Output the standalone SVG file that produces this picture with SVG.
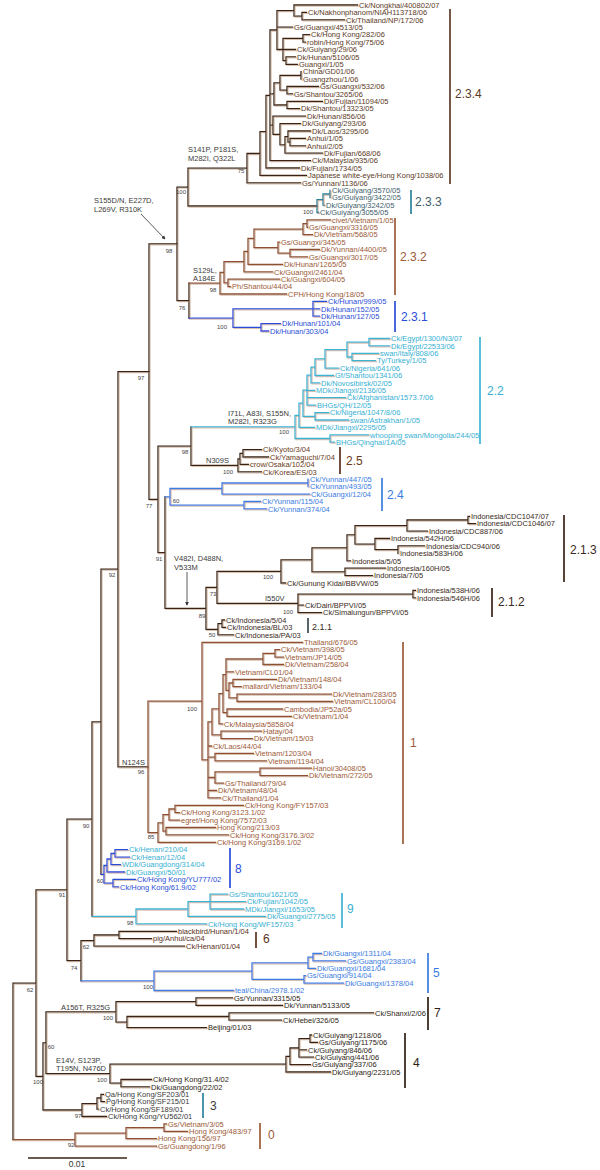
<svg xmlns="http://www.w3.org/2000/svg" width="600" height="1170" viewBox="0 0 600 1170">
<style>
text{font-family:"Liberation Sans",Arial,sans-serif}
.t{font-size:7.5px}
.bs{font-size:6px;fill:#444;text-anchor:middle}
.mu{font-size:7.5px;fill:#3a3a3a}
.cl{font-size:12px}
.sm{font-size:9px}
#connectors path{fill:none;stroke-width:1.3;stroke-linecap:square}
.bar{stroke-width:1.7;fill:none}
.k{stroke:#3a2214}
.s{stroke:#8f4f30}
.b{stroke:#2a4ed8}
.b2{stroke:#3a7be2}
.c{stroke:#3bb3d3}
.tl{stroke:#2b8399}
.f234{fill:#5c3a26}.f233{fill:#3e5e6b}.fs{fill:#9c5a38}.fb{fill:#2a4ed8}.fb2{fill:#3a7be2}.fc{fill:#36b0d2}.f25{fill:#6a3a20}.f21{fill:#3a2a22}.f6{fill:#5a3020}.fk{fill:#2e1e14}.f3{fill:#3a3a3a}
</style>
<defs>
<marker id="ah" viewBox="0 0 6 6" refX="5" refY="3" markerWidth="5" markerHeight="5" orient="auto"><path d="M0,0L6,3L0,6z" fill="#333"/></marker>
<filter id="sh" x="-2%" y="-2%" width="104%" height="104%">
<feOffset in="SourceAlpha" dx="0.9" dy="0.9" result="o"/>
<feFlood flood-color="#d6c0ae"/>
<feComposite in2="o" operator="in" result="s"/>
<feMerge><feMergeNode in="s"/><feMergeNode in="SourceGraphic"/></feMerge>
</filter>
</defs>
<rect width="600" height="1170" fill="#fff"/>
<g id="connectors" filter="url(#sh)">
<path class="k" d="M302 12.4V19.8M302 12.4H306.5M302 19.8H344.5M294 5V16.1M294 5H357.5M294 16.1H302M303 34.6V42.1M303 34.6H309.5M303 42.1H305.5M286 56.9V64.3M286 56.9H295.5M286 64.3H297.5M283 38.4V60.6M283 38.4H303M283 49.5H295.5M283 60.6H286M277 10.6V49.5M277 10.6H294M277 27.2H292.5M277 49.5H283M301 71.7V79.1M287 86.5V93.9M287 86.5H318.5M287 93.9H292.5M280 75.4V90.2M280 75.4H301M280 90.2H287M287 101.3V108.7M287 101.3H322.5M287 108.7H299.5M274 82.8V105M274 82.8H280M274 105H287M290 138.4V145.8M290 138.4H305.5M290 145.8H305.5M288 131V142.1M288 131H310.5M288 142.1H290M285 136.6V153.2M285 136.6H288M285 153.2H322.5M280 123.6V144.9M280 123.6H300.5M280 144.9H285M273 116.2V134.3M273 116.2H305.5M273 134.3H280M270 30V160.6M270 30H277M270 93.9H274M270 125.2H273M270 160.6H310.5M266 95.3V168M266 95.3H270M266 168H299.5M260 131.7V175.4M260 131.7H266M260 175.4H306.5M247 153.5V182.8M247 153.5H260M247 182.8H300.5M188 168.2V206M188 168.2H247M188 206H317M177 187.1V300.6M177 187.1H188M177 300.6H189M189 283.1V318.1"/>
<path class="k" d="M149 243.9V499.4M149 243.9H177M149 499.4H158M158 446.1V552.6M158 446.1H191M158 552.6H165M191 426.9V465.3M191 465.3H238M243 449.6V457M243 449.6H261.5M243 457H268.5M240 453.3V464.4M240 453.3H243M240 464.4H248.5M238 458.9V471.8M238 458.9H240M238 471.8H261.5M165 496.9V608.4M165 608.4H206M468 516.3V523.7M468 516.3H469.5M468 523.7H475.5M407 520V531.1M407 520H468M407 531.1H427.5M398 545.9V553.3M398 545.9H424.5M375 538.5V549.6M375 538.5H389.5M375 549.6H398M355 525.6V544.1M355 525.6H407M355 544.1H375M347 534.8V560.8M347 534.8H355M347 560.8H350.5M345 568.2V575.6M345 568.2H385.5M345 575.6H372.5M312 547.8V571.9M312 547.8H347M312 571.9H345M281 559.9V583M281 559.9H312M281 583H285.5M413 590.4V597.8M413 590.4H415.5M413 597.8H415.5M298 594.1V612.6M298 594.1H413M298 605.2H303.5M298 612.6H321.5M217 571.4V603.4M217 571.4H281M217 603.4H298M222 620V627.4M222 620H224.5M222 627.4H225.5M218 623.7V634.9M218 623.7H222M218 634.9H233.5M206 587.4V629.3M206 587.4H217M206 629.3H218"/>
<path class="k" d="M118 371.6V766.9M118 371.6H149M118 766.9H148M101 569.2V874.3M101 569.2H118M92 721.8V916.4M92 721.8H101M67 819.1V960.7M67 819.1H92M67 960.7H81M119 931.3V938.7M119 931.3H176.5M119 938.7H151.5M94 935V946.1M94 935H119M94 946.1H184.5M81 940.6V980.8M81 940.6H94M36 889.9V1076.4M36 889.9H67M36 1076.4H43M196 997.9V1005.4M196 997.9H232.5M196 1005.4H282.5M229 1012.8V1020.2M229 1012.8H373.5M229 1020.2H281.5M127 1016.5V1027.6M127 1016.5H229M127 1027.6H206.5M116 1001.7V1022.1M116 1001.7H196M116 1022.1H127M310 1035V1042.4M310 1035H311.5M310 1042.4H317.5M299 1038.7V1057.2M299 1038.7H310M299 1049.8H306.5M299 1057.2H313.5M290 1048V1064.6M290 1048H299M290 1064.6H310.5M286 1056.3V1072M286 1056.3H290M286 1072H330.5M121 1079.5V1086.9M121 1079.5H151.5M121 1086.9H149.5M110 1064.2V1083.2M110 1064.2H286M110 1083.2H121M46 1011.9V1073.7M46 1011.9H116M46 1073.7H110M101 1094.3V1101.7M101 1094.3H103.5M101 1101.7H104.5M97 1098V1109.1M97 1098H101M97 1109.1H98.5M82 1103.6V1116.5M82 1103.6H97M82 1116.5H106.5M43 1042.8V1110M43 1042.8H46M43 1110H82M13 983.2V1139.6M13 983.2H36"/>
<path class="tl" d="M330 190.3V197.7M323 194V205.1M323 194H330M323 205.1H324.5M317 199.6V212.5M317 199.6H323M317 212.5H318.5"/>
<path class="s" d="M307 219.9V227.3M307 219.9H330.5M307 227.3H307.5M303 223.6V234.7M303 223.6H307M303 234.7H312.5M290 249.5V256.9M290 249.5H319.5M290 256.9H307.5M278 242.1V253.2M278 242.1H279.5M278 253.2H290M254 229.2V247.7M254 229.2H303M254 247.7H278M248 238.4V264.4M248 238.4H254M248 264.4H282.5M244 251.4V271.8M244 251.4H248M244 271.8H272.5M228 279.2V286.6M228 279.2H279.5M228 286.6H230.5M224 261.6V282.9M224 261.6H244M224 282.9H228M220 272.3V294M220 272.3H224M220 294H286.5M189 283.1H220"/>
<path class="s" d="M275 649.7V657.1M275 649.7H279.5M275 657.1H283.5M263 653.4V664.5M263 653.4H275M263 664.5H283.5M233 679.3V686.7M233 679.3H276.5M233 686.7H241.5M237 694.1V701.5M237 694.1H331.5M237 701.5H332.5M229 683V697.8M229 683H233M229 697.8H237M226 659V690.4M226 659H263M226 671.9H233.5M226 690.4H229M227 709V716.4M227 709H282.5M227 716.4H291.5M223 674.7V712.7M223 674.7H226M223 712.7H227M219 693.7V723.8M219 693.7H223M219 723.8H222.5M221 731.2V738.6M221 731.2H261.5M221 738.6H252.5M212 708.8V734.9M212 708.8H219M212 734.9H221M215 753.4V760.8M215 753.4H253.5M215 760.8H266.5M260 768.2V775.6M260 768.2H311.5M260 775.6H307.5M215 771.9V783.1M215 771.9H260M215 783.1H223.5M208 721.8V797.9M208 721.8H212M208 746H211.5M208 757.1H215M208 777.5H215M208 790.5H216.5M208 797.9H220.5M202 642.3V759.9M202 642.3H302.5M202 759.9H208M175 805.3V812.7M175 805.3H243.5M175 812.7H179.5M169 809V820.1M169 809H175M169 820.1H179.5M166 827.5V834.9M166 827.5H215.5M166 834.9H228.5M163 814.6V831.2M163 814.6H169M163 831.2H166M158 822.9V842.3M158 822.9H163M158 842.3H215.5M148 701.1V832.6M148 701.1H202M148 832.6H158"/>
<path class="s" d="M164 1123.9V1131.3M164 1123.9H166.5M164 1131.3H187.5M126 1127.6V1138.7M126 1127.6H164M126 1138.7H156.5M75 1133.2V1146.1M75 1133.2H126M75 1146.1H156.5M13 1139.6H75"/>
<path class="b" d="M189 318.1H233M313 301.4V316.2M313 301.4H326.5M313 308.8H319.5M313 316.2H319.5M261 323.6V331M261 323.6H280.5M261 331H268.5M233 308.8V327.3M233 308.8H313M233 327.3H261M115 849.7V857.2M115 849.7H127.5M115 857.2H129.5M111 853.5V864.6M111 853.5H115M111 864.6H120.5M107 859V872M107 859H111M107 872H124.5M113 879.4V886.8M113 879.4H135.5M113 886.8H118.5M104 865.5V883.1M104 865.5H107M104 883.1H113M101 874.3H104"/>
<path class="b2" d="M308 479.2V486.7M222 483V494.1M222 483H308M222 494.1H309.5M244 501.5V508.9M244 501.5H260.5M244 508.9H266.5M170 488.5V505.2M170 488.5H222M170 505.2H244M165 496.9H170M313 953.5V960.9M313 953.5H321.5M313 960.9H345.5M308 957.2V968.3M308 957.2H313M308 968.3H315.5M304 975.7V983.1M304 975.7H305.5M304 983.1H343.5M252 962.8V979.4M252 962.8H308M252 979.4H304M154 971.1V990.5M154 971.1H252M154 990.5H233.5M81 980.8H154"/>
<path class="c" d="M369 338.5V345.9M369 338.5H389.5M369 345.9H389.5M352 353.3V360.7M352 353.3H378.5M352 360.7H375.5M347 342.2V357M347 342.2H369M347 357H352M325 349.6V368.1M325 349.6H347M325 368.1H338.5M315 358.9V375.5M315 358.9H325M315 375.5H333.5M311 367.2V382.9M311 367.2H315M311 382.9H319.5M307 375.1V405.1M307 375.1H311M307 390.3H314.5M307 397.7H345.5M307 405.1H315.5M315 412.6V420M315 412.6H328.5M315 420H348.5M303 390.1V416.3M303 390.1H307M303 416.3H315M299 403.2V427.4M299 403.2H303M299 427.4H314.5M330 434.8V442.2M330 434.8H368.5M330 442.2H334.5M295 415.3V438.5M295 415.3H299M295 438.5H330M191 426.9H295M210 894.2V909M210 894.2H227.5M210 901.6H245.5M210 909H243.5M188 901.6V916.4M188 901.6H210M188 916.4H265.5M136 909V923.8M136 909H188M136 923.8H206.5M92 916.4H136"/>
</g>
<g id="annotations">
<text class="mu" x="94" y="202.7">S155D/N,  E227D,</text>
<text class="mu" x="94" y="211.7">L269V, R310K</text>
<path d="M141 214L165 239" stroke="#333" stroke-width="0.8" fill="none" marker-end="url(#ah)"/>
<text class="mu" x="188" y="151.7">S141P,   P181S,</text>
<text class="mu" x="188" y="160.7">M282I, Q322L</text>
<text class="mu" x="193" y="273.2">S129L,</text>
<text class="mu" x="193" y="281.2">A184E</text>
<text class="mu" x="228" y="415.7">I71L, A83I, S155N,</text>
<text class="mu" x="228" y="424.2">M282I, R323G</text>
<text class="mu" x="206" y="463.2">N309S</text>
<text class="mu" x="174" y="560.7">V482I, D488N,</text>
<text class="mu" x="174" y="569.7">V533M</text>
<path d="M187 572V605" stroke="#333" stroke-width="0.8" fill="none" marker-end="url(#ah)"/>
<text class="mu" x="265" y="600.7">I550V</text>
<text class="mu" x="122" y="764.7">N124S</text>
<text class="mu" x="61" y="1009.7">A156T, R325G</text>
<text class="mu" x="56" y="1062.7">E14V,   S123P,</text>
<text class="mu" x="56" y="1071.2">T195N, N476D</text>
</g>
<g id="bootstrap">
<text class="bs" x="241" y="173.1">75</text>
<text class="bs" x="181" y="194.1">100</text>
<text class="bs" x="308" y="214.1">100</text>
<text class="bs" x="169" y="253.1">98</text>
<text class="bs" x="213" y="292.1">98</text>
<text class="bs" x="182" y="310.1">76</text>
<text class="bs" x="222" y="329.1">100</text>
<text class="bs" x="141" y="380.1">97</text>
<text class="bs" x="284" y="434.1">100</text>
<text class="bs" x="185" y="454.1">98</text>
<text class="bs" x="228" y="474.1">100</text>
<text class="bs" x="176" y="503.1">60</text>
<text class="bs" x="149" y="508.1">77</text>
<text class="bs" x="159" y="561.1">91</text>
<text class="bs" x="112" y="577.1">92</text>
<text class="bs" x="268" y="579.1">100</text>
<text class="bs" x="213" y="596.1">73</text>
<text class="bs" x="288" y="614.1">100</text>
<text class="bs" x="202" y="618.1">89</text>
<text class="bs" x="212" y="637.1">50</text>
<text class="bs" x="192" y="711.1">100</text>
<text class="bs" x="141" y="774.1">96</text>
<text class="bs" x="151" y="839.1">85</text>
<text class="bs" x="86" y="828.1">90</text>
<text class="bs" x="100" y="883.1">60</text>
<text class="bs" x="62" y="897.1">91</text>
<text class="bs" x="130" y="925.1">98</text>
<text class="bs" x="86" y="949.1">62</text>
<text class="bs" x="74" y="970.1">74</text>
<text class="bs" x="148" y="989.1">100</text>
<text class="bs" x="30" y="992.1">62</text>
<text class="bs" x="108" y="1020.1">100</text>
<text class="bs" x="51" y="1049.1">60</text>
<text class="bs" x="102" y="1082.1">100</text>
<text class="bs" x="38" y="1084.1">100</text>
<text class="bs" x="78" y="1118.1">97</text>
<text class="bs" x="71" y="1147.1">92</text>
</g>
<g id="clade-2-3-4" class="t f234">
<text x="359" y="7.7">Ck/Nongkhai/400802/07</text>
<text x="308" y="15.1">Ck/Nakhonphanom/NIAH113718/06</text>
<text x="346" y="22.5">Ck/Thailand/NP/172/06</text>
<text x="294" y="29.9">Gs/Guangxi/4513/05</text>
<text x="311" y="37.3">Ck/Hong Kong/282/06</text>
<text x="307" y="44.8">robin/Hong Kong/75/06</text>
<text x="297" y="52.2">Ck/Guiyang/29/06</text>
<text x="297" y="59.6">Dk/Hunan/5106/05</text>
<text x="299" y="67">Guangxi/1/05</text>
<text x="303" y="74.4">China/GD01/06</text>
<text x="303" y="81.8">Guangzhou/1/06</text>
<text x="320" y="89.2">Gs/Guangxi/532/06</text>
<text x="294" y="96.6">Gs/Shantou/3265/06</text>
<text x="324" y="104">Dk/Fujian/11094/05</text>
<text x="301" y="111.4">Dk/Shantou/13323/05</text>
<text x="307" y="118.9">Dk/Hunan/856/06</text>
<text x="302" y="126.3">Dk/Guiyang/293/06</text>
<text x="312" y="133.7">Dk/Laos/3295/06</text>
<text x="307" y="141.1">Anhui/1/05</text>
<text x="307" y="148.5">Anhui/2/05</text>
<text x="324" y="155.9">Dk/Fujian/668/06</text>
<text x="312" y="163.3">Ck/Malaysia/935/06</text>
<text x="301" y="170.7">Dk/Fujian/1734/05</text>
<text x="308" y="178.1">Japanese white-eye/Hong Kong/1038/06</text>
<text x="302" y="185.5">Gs/Yunnan/1136/06</text>
<path class="bar" d="M450 9V184" stroke="#5c3a26"/>
<text class="cl" x="455" y="98.3">2.3.4</text>
</g>
<g id="clade-2-3-3" class="t f233">
<text x="332" y="193">Ck/Guiyang/3570/05</text>
<text x="332" y="200.4">Gs/Guiyang/3422/05</text>
<text x="326" y="207.8">Dk/Guiyang/3242/05</text>
<text x="320" y="215.2">Ck/Guiyang/3055/05</text>
<path class="bar" d="M411 190V214" stroke="#2b8399"/>
<text class="cl" x="415" y="206.3">2.3.3</text>
</g>
<g id="clade-2-3-2" class="t fs">
<text x="332" y="222.6">civet/Vietnam/1/05</text>
<text x="309" y="230">Gs/Guangxi/3316/05</text>
<text x="314" y="237.4">Dk/Vietnam/568/05</text>
<text x="281" y="244.8">Gs/Guangxi/345/05</text>
<text x="321" y="252.2">Dk/Yunnan/4400/05</text>
<text x="309" y="259.6">Gs/Guangxi/3017/05</text>
<text x="284" y="267.1">Dk/Hunan/1265/05</text>
<text x="274" y="274.5">Ck/Guangxi/2461/04</text>
<text x="281" y="281.9">Ck/Guangxi/604/05</text>
<text x="232" y="289.3">Ph/Shantou/44/04</text>
<text x="288" y="296.7">CPH/Hong Kong/18/05</text>
<path class="bar" d="M395 218V295" stroke="#9c5a38"/>
<text class="cl" x="400" y="261.3">2.3.2</text>
</g>
<g id="clade-2-3-1" class="t fb">
<text x="328" y="304.1">Ck/Hunan/999/05</text>
<text x="321" y="311.5">Dk/Hunan/152/05</text>
<text x="321" y="318.9">Dk/Hunan/127/05</text>
<text x="282" y="326.3">Dk/Hunan/101/04</text>
<text x="270" y="333.7">Dk/Hunan/303/04</text>
<path class="bar" d="M395 301V332" stroke="#2a4ed8"/>
<text class="cl" x="401" y="321.3">2.3.1</text>
</g>
<g id="clade-2-2" class="t fc">
<text x="391" y="341.2">Ck/Egypt/1300/N3/07</text>
<text x="391" y="348.6">Dk/Egypt/22533/06</text>
<text x="380" y="356">swan/Italy/808/06</text>
<text x="377" y="363.4">Ty/Turkey/1/05</text>
<text x="340" y="370.8">Ck/Nigeria/641/06</text>
<text x="335" y="378.2">Gf/Shantou/1341/06</text>
<text x="321" y="385.6">Dk/Novosibirsk/02/05</text>
<text x="316" y="393">MDk/Jiangxi/2136/05</text>
<text x="347" y="400.4">Ck/Afghanistan/1573.7/06</text>
<text x="317" y="407.8">BHGs/QH/12/05</text>
<text x="330" y="415.3">Ck/Nigeria/1047/8/06</text>
<text x="350" y="422.7">swan/Astrakhan/1/05</text>
<text x="316" y="430.1">MDk/Jiangxi/2295/05</text>
<text x="370" y="437.5">whooping swan/Mongolia/244/05</text>
<text x="336" y="444.9">BHGs/Qinghai/1A/05</text>
<path class="bar" d="M480 337V444" stroke="#3bb3d3"/>
<text class="cl" x="487" y="395.3">2.2</text>
</g>
<g id="clade-2-5" class="t f25">
<text x="263" y="452.3">Ck/Kyoto/3/04</text>
<text x="270" y="459.7">Ck/Yamaguchi/7/04</text>
<text x="250" y="467.1">crow/Osaka/102/04</text>
<text x="263" y="474.5">Ck/Korea/ES/03</text>
<path class="bar" d="M340 447V474" stroke="#5a3020"/>
<text class="cl" x="346" y="465.3">2.5</text>
</g>
<g id="clade-2-4" class="t fb2">
<text x="310" y="481.9">Ck/Yunnan/447/05</text>
<text x="310" y="489.4">Ck/Yunnan/493/05</text>
<text x="311" y="496.8">Ck/Guangxi/12/04</text>
<text x="262" y="504.2">Ck/Yunnan/115/04</text>
<text x="268" y="511.6">Ck/Yunnan/374/04</text>
<path class="bar" d="M382 478V511" stroke="#3a7be2"/>
<text class="cl" x="387" y="499.3">2.4</text>
</g>
<g id="clade-2-1" class="t f21">
<text x="471" y="519">Indonesia/CDC1047/07</text>
<text x="477" y="526.4">Indonesia/CDC1046/07</text>
<text x="429" y="533.8">Indonesia/CDC887/06</text>
<text x="391" y="541.2">Indonesia/542H/06</text>
<text x="426" y="548.6">Indonesia/CDC940/06</text>
<text x="400" y="556">Indonesia/583H/06</text>
<text x="352" y="563.5">Indonesia/5/05</text>
<text x="387" y="570.9">Indonesia/160H/05</text>
<text x="374" y="578.3">Indonesia/7/05</text>
<text x="287" y="585.7">Ck/Gunung Kidal/BBVW/05</text>
<text x="417" y="593.1">Indonesia/538H/06</text>
<text x="417" y="600.5">Indonesia/546H/06</text>
<text x="305" y="607.9">Ck/Dairi/BPPVI/05</text>
<text x="323" y="615.3">Ck/Simalungun/BPPVI/05</text>
<text x="226" y="622.7">Ck/Indonesia/5/04</text>
<text x="227" y="630.1">Ck/Indonesia/BL/03</text>
<text x="235" y="637.6">Ck/Indonesia/PA/03</text>
<path class="bar" d="M564 515V582M492 588V617" stroke="#3a2214"/>
<path class="bar" d="M308 618V633" stroke="#3a4a50"/>
<text class="cl" x="570" y="554.3">2.1.3</text>
<text class="cl" x="498" y="606.3">2.1.2</text>
<text class="sm" x="312" y="630.2">2.1.1</text>
</g>
<g id="clade-1" class="t fs">
<text x="304" y="645">Thailand/676/05</text>
<text x="281" y="652.4">Ck/Vietnam/398/05</text>
<text x="285" y="659.8">Vietnam/JP14/05</text>
<text x="285" y="667.2">Dk/Vietnam/258/04</text>
<text x="235" y="674.6">Vietnam/CL01/04</text>
<text x="278" y="682">Dk/Vietnam/148/04</text>
<text x="243" y="689.4">mallard/Vietnam/133/04</text>
<text x="333" y="696.8">Dk/Vietnam/283/05</text>
<text x="334" y="704.2">Vietnam/CL100/04</text>
<text x="284" y="711.7">Cambodia/JP52a/05</text>
<text x="293" y="719.1">Ck/Vietnam/1/04</text>
<text x="224" y="726.5">Ck/Malaysia/5858/04</text>
<text x="263" y="733.9">Hatay/04</text>
<text x="254" y="741.3">Dk/Vietnam/15/03</text>
<text x="213" y="748.7">Ck/Laos/44/04</text>
<text x="255" y="756.1">Vietnam/1203/04</text>
<text x="268" y="763.5">Vietnam/1194/04</text>
<text x="313" y="770.9">Hanoi/30408/05</text>
<text x="309" y="778.3">Dk/Vietnam/272/05</text>
<text x="225" y="785.8">Gs/Thailand/79/04</text>
<text x="218" y="793.2">Dk/Vietnam/48/04</text>
<text x="222" y="800.6">Ck/Thailand/1/04</text>
<text x="245" y="808">Ck/Hong Kong/FY157/03</text>
<text x="181" y="815.4">Ck/Hong Kong/3123.1/02</text>
<text x="181" y="822.8">egret/Hong Kong/7572/03</text>
<text x="217" y="830.2">Hong Kong/213/03</text>
<text x="230" y="837.6">Ck/Hong Kong/3176.3/02</text>
<text x="217" y="845">Ck/Hong Kong/3169.1/02</text>
<path class="bar" d="M403 642V844" stroke="#9c5a38"/>
<text class="cl" x="410" y="747.3">1</text>
</g>
<g id="clade-8" class="t">
<text class="fc" x="129" y="852.4">Ck/Henan/210/04</text>
<text class="fc" x="131" y="859.9">Ck/Henan/12/04</text>
<text class="fc" x="122" y="867.3">WDk/Guangdong/314/04</text>
<text class="fc" x="126" y="874.7">Dk/Guangxi/50/01</text>
<text class="fb" x="137" y="882.1">Ck/Hong Kong/YU777/02</text>
<text class="fb" x="120" y="889.5">Ck/Hong Kong/61.9/02</text>
<path class="bar" d="M230 848V888" stroke="#2a4ed8"/>
<text class="cl fb" x="235" y="873.3">8</text>
</g>
<g id="clade-9" class="t fc">
<text x="229" y="896.9">Gs/Shantou/1621/05</text>
<text x="247" y="904.3">Ck/Fujian/1042/05</text>
<text x="245" y="911.7">MDk/Jiangxi/1653/05</text>
<text x="267" y="919.1">Dk/Guangxi/2775/05</text>
<text x="208" y="926.5">Ck/Hong Kong/WF157/03</text>
<path class="bar" d="M342 893V928" stroke="#3bb3d3"/>
<text class="cl" x="347" y="913.3">9</text>
</g>
<g id="clade-6" class="t f6">
<text x="178" y="934">blackbird/Hunan/1/04</text>
<text x="153" y="941.4">pig/Anhui/ca/04</text>
<text x="186" y="948.8">Ck/Henan/01/04</text>
<path class="bar" d="M256 932V948" stroke="#5a3020"/>
<text class="cl" x="263" y="943.3">6</text>
</g>
<g id="clade-5" class="t fb2">
<text x="323" y="956.2">Dk/Guangxi/1311/04</text>
<text x="347" y="963.6">Gs/Guangxi/2383/04</text>
<text x="317" y="971">Dk/Guangxi/1681/04</text>
<text x="307" y="978.4">Gs/Guangxi/914/04</text>
<text x="345" y="985.8">Dk/Guangxi/1378/04</text>
<text x="235" y="993.2">teal/China/2978.1/02</text>
<path class="bar" d="M428 953V993" stroke="#3a7be2"/>
<text class="cl" x="433" y="977.3">5</text>
</g>
<g id="clade-7" class="t fk">
<text x="234" y="1000.6">Gs/Yunnan/3315/05</text>
<text x="284" y="1008.1">Dk/Yunnan/5133/05</text>
<text x="375" y="1015.5">Ck/Shanxi/2/06</text>
<text x="283" y="1022.9">Ck/Hebei/326/05</text>
<text x="208" y="1030.3">Beijing/01/03</text>
<path class="bar" d="M428 997V1030" stroke="#2e1e14"/>
<text class="cl" x="434" y="1017.3">7</text>
</g>
<g id="clade-4" class="t fk">
<text x="313" y="1037.7">Ck/Guiyang/1218/06</text>
<text x="319" y="1045.1">Gs/Guiyang/1175/06</text>
<text x="308" y="1052.5">Ck/Guiyang/846/06</text>
<text x="315" y="1059.9">Ck/Guiyang/441/06</text>
<text x="312" y="1067.3">Gs/Guiyang/337/06</text>
<text x="332" y="1074.7">Dk/Guiyang/2231/05</text>
<text x="153" y="1082.2">Ck/Hong Kong/31.4/02</text>
<text x="151" y="1089.6">Dk/Guangdong/22/02</text>
<path class="bar" d="M405 1033V1088" stroke="#2e1e14"/>
<text class="cl" x="413" y="1067.3">4</text>
</g>
<g id="clade-3" class="t f3">
<text x="105" y="1097">Qa/Hong Kong/SF203/01</text>
<text x="106" y="1104.4">Pg/Hong Kong/SF215/01</text>
<text x="100" y="1111.8">Ck/Hong Kong/SF189/01</text>
<text x="108" y="1119.2">Ck/Hong Kong/YU562/01</text>
<path class="bar" d="M203 1093V1118" stroke="#2b8399"/>
<text class="cl" x="210" y="1110.3">3</text>
</g>
<g id="clade-0" class="t fs">
<text x="168" y="1126.6">Gs/Vietnam/3/05</text>
<text x="189" y="1134">Hong Kong/483/97</text>
<text x="158" y="1141.4">Hong Kong/156/97</text>
<text x="158" y="1148.8">Gs/Guangdong/1/96</text>
<path class="bar" d="M260 1123V1149" stroke="#9c5a38"/>
<text class="cl" x="268" y="1139.3">0</text>
</g>
<g id="scale">
<path d="M28 1158H127" stroke="#3a2214" stroke-width="1.5"/>
<text x="77" y="1167" font-size="8.5" fill="#333" text-anchor="middle">0.01</text>
</g>
</svg>
